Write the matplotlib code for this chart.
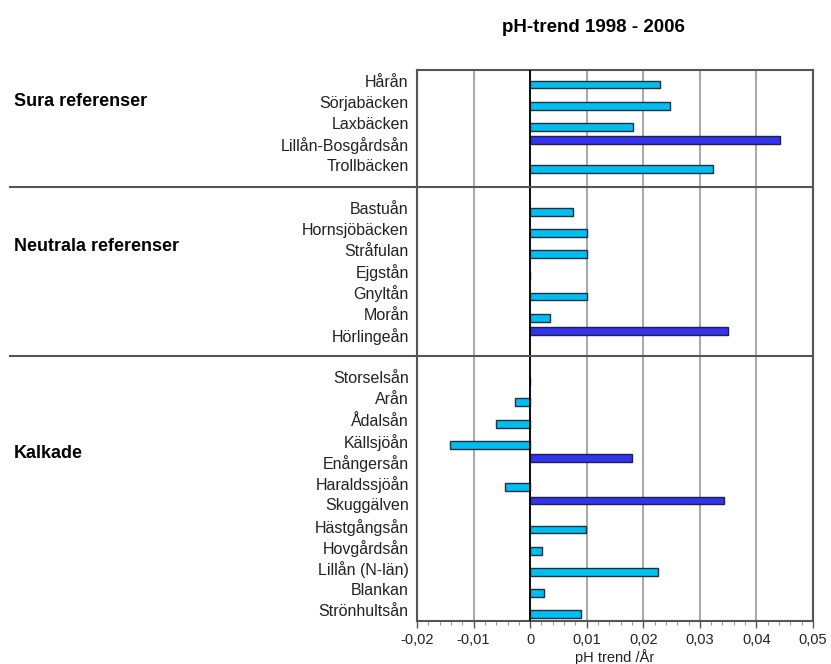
import numpy as np
import matplotlib.pyplot as plt
from matplotlib.ticker import MultipleLocator, FuncFormatter

plt.rcParams['font.family'] = ['Liberation Sans', 'DejaVu Sans']

# grupper och vattendrag (uppifrån och ned)
groups = ['Sura referenser', 'Neutrala referenser', 'Kalkade']
sura = ['Hårån', 'Sörjabäcken', 'Laxbäcken', 'Lillån-Bosgårdsån', 'Trollbäcken']
neutrala = ['Bastuån', 'Hornsjöbäcken', 'Stråfulan', 'Ejgstån', 'Gnyltån', 'Morån', 'Hörlingeån']
kalkade = ['Storselsån', 'Arån', 'Ådalsån', 'Källsjöån', 'Enångersån', 'Haraldssjöån',
           'Skuggälven', 'Hästgångsån', 'Hovgårdsån', 'Lillån (N-län)', 'Blankan', 'Strönhultsån']

trend_sura = [0.0229, 0.0247, 0.0182, 0.0442, 0.0323]
trend_neutrala = [0.0076, 0.0100, 0.0100, 0.0, 0.0100, 0.0035, 0.0349]
trend_kalkade = [0.0, -0.0027, -0.0061, -0.0141, 0.0180, -0.0044,
                 0.0343, 0.0099, 0.0021, 0.0226, 0.0024, 0.0090]

# signifikanta (mörkblå) trender
signif_sura = [False, False, False, True, False]
signif_neutrala = [False, False, False, False, False, False, True]
signif_kalkade = [False, False, False, False, True, False, True, False, False, False, False, False]

names_all = [sura, neutrala, kalkade]
trend_all = [trend_sura, trend_neutrala, trend_kalkade]
signif_all = [signif_sura, signif_neutrala, signif_kalkade]

# var grupprubriken hamnar (rader från gruppens början)
group_label_row = [1.0, 1.85, 3.6]

light = '#00BFF0'
dark = '#3333F0'
bh = 0.37

fig = plt.figure(figsize=(8.31, 6.64), dpi=100)
ax = fig.add_axes([417/831, 1-621/664, 396/831, 551/664])

ypos = []
labels = []
sep_y = []
group_y = []
pos = 0
for gi, (names, vals, sig) in enumerate(zip(names_all, trend_all, signif_all)):
    start = pos
    for n, v, s in zip(names, vals, sig):
        if s:
            ax.barh(pos - bh/2, v, height=bh, color=dark, edgecolor='#202040', lw=1.0, zorder=3)
        else:
            ax.barh(pos + bh/2, v, height=bh, color=light, edgecolor='#203040', lw=1.0, zorder=3)
        ypos.append(pos)
        labels.append(n)
        pos += 1
    group_y.append(start + group_label_row[gi])
    if gi < len(names_all) - 1:
        sep_y.append(pos)
        pos += 1

ax.set_ylim(pos - 0.5, -0.5)
ax.set_xlim(-0.02, 0.05)

ax.set_yticks(ypos)
ax.set_yticklabels(labels, fontsize=11.5, color='#222222')
ax.tick_params(axis='y', length=0, pad=6)

ax.xaxis.set_major_locator(MultipleLocator(0.01))
ax.xaxis.set_minor_locator(MultipleLocator(0.002))
ax.xaxis.set_major_formatter(FuncFormatter(lambda x, p: ('%g' % round(x, 3)).replace('.', ',')))
ax.tick_params(axis='x', which='major', length=5, width=1, labelsize=10.5, color='#555555',
               labelcolor='#222222', pad=4)
ax.tick_params(axis='x', which='minor', length=3, width=0.8, color='#999999')
ax.set_xlabel('pH trend /År', fontsize=10.5, labelpad=1, color='#222222')

# små tickar innåt längs överkanten
top = ax.secondary_xaxis('top')
top.xaxis.set_major_locator(MultipleLocator(0.01))
top.tick_params(direction='in', length=4, color='#555555', labeltop=False)
top.spines['top'].set_visible(False)

ax.grid(axis='x', color='#aaaaaa', lw=1.5, zorder=0)
ax.axvline(0, color='black', lw=1.3, zorder=4)

for sp in ax.spines.values():
    sp.set_color('#555555')
    sp.set_linewidth(1.5)

# avgränsningslinjer mellan grupperna
x0 = (10 - 417) / 396
for y in sep_y:
    ax.plot([x0, 1], [y, y], transform=ax.get_yaxis_transform(), color='#555555', lw=1.5, clip_on=False, zorder=5)

for g, gy in zip(groups, group_y):
    ax.text(x0 + 0.01, gy, g, transform=ax.get_yaxis_transform(), fontsize=13,
            fontweight='bold', va='center', ha='left')

fig.text(593/831, 1-27/664, 'pH-trend 1998 - 2006', fontsize=13.5, fontweight='bold', ha='center', va='center')

fig.savefig('out.png', dpi=100)
